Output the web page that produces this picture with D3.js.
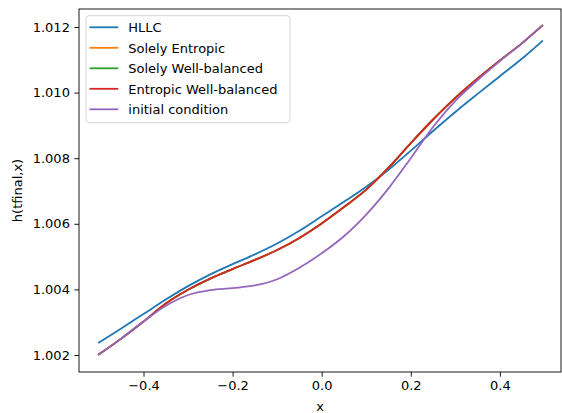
<!DOCTYPE html>
<html>
<head>
<meta charset="utf-8">
<script src="https://cdn.jsdelivr.net/npm/d3@7"></script>
<style>
  body { margin: 0; background: #fff; }
  svg { display: block; font-family: "DejaVu Sans", sans-serif; }
</style>
</head>
<body>
<svg id="chart" width="562" height="413"></svg>
<script>
const xs = [-0.5, -0.45, -0.4, -0.35, -0.3, -0.25, -0.2, -0.15, -0.1, -0.05,
            0, 0.05, 0.1, 0.15, 0.2, 0.25, 0.3, 0.35, 0.4, 0.45, 0.495];

const hllc = [1.00238, 1.00281, 1.00325, 1.00369, 1.00410, 1.00446, 1.00477, 1.00507, 1.00540, 1.00579,
              1.00623, 1.00667, 1.00713, 1.00765, 1.00823, 1.00883, 1.00941, 1.00996, 1.01050, 1.01104, 1.01157];

const solelyEntropic = [1.00202, 1.00250, 1.00302, 1.00357, 1.00399, 1.00433, 1.00462, 1.00490, 1.00520, 1.00557,
                        1.00601, 1.00651, 1.00704, 1.00771, 1.00846, 1.00918, 1.00984, 1.01043, 1.01098, 1.01151, 1.01204];

const solelyWB = [1.00202, 1.00250, 1.00302, 1.00357, 1.00399, 1.00433, 1.00462, 1.00490, 1.00520, 1.00557,
                  1.00601, 1.00651, 1.00704, 1.00771, 1.00846, 1.00918, 1.00984, 1.01043, 1.01098, 1.01151, 1.01204];

const entropicWB = [1.00202, 1.00250, 1.00302, 1.00357, 1.00399, 1.00433, 1.00462, 1.00490, 1.00520, 1.00557,
                    1.00601, 1.00651, 1.00704, 1.00771, 1.00846, 1.00918, 1.00984, 1.01043, 1.01098, 1.01151, 1.01204];

const initial = [1.00202, 1.00250, 1.00302, 1.00350, 1.00383, 1.00398, 1.00404, 1.00412, 1.00431, 1.00466,
                 1.00510, 1.00562, 1.00628, 1.00708, 1.00800, 1.00895, 1.00975, 1.01038, 1.01096, 1.01151, 1.01204];

const seriesNames = ["HLLC", "Solely Entropic", "Solely Well-balanced", "Entropic Well-balanced", "initial condition"];
const seriesValues = [hllc, solelyEntropic, solelyWB, entropicWB, initial];
const colors = ["#1f77b4", "#ff7f0e", "#2ca02c", "#d62728", "#9467bd"];

const xTicks = [-0.4, -0.2, 0.0, 0.2, 0.4];
const yTicks = [1.002, 1.004, 1.006, 1.008, 1.010, 1.012];

// Axes box
const box = { left: 79, right: 561, top: 9, bottom: 372 };
const svg = d3.select("#chart");

const x = d3.scaleLinear()
    .domain([-0.5448, 0.5372])
    .range([box.left, box.right]);

const y = d3.scaleLinear()
    .domain([1.001482, 1.012549])
    .range([box.bottom, box.top]);

// X axis
const xAxis = svg.append("g")
    .attr("transform", `translate(0,${box.bottom})`)
    .call(d3.axisBottom(x)
        .tickValues(xTicks)
        .tickSize(4.7)
        .tickPadding(4.4)
        .tickFormat(d => d3.format(".1f")(d).replace("-", "\u2212")));

// Y axis
const yAxis = svg.append("g")
    .attr("transform", `translate(${box.left},0)`)
    .call(d3.axisLeft(y)
        .tickValues(yTicks)
        .tickSize(4.7)
        .tickPadding(4.4)
        .tickFormat(d3.format(".3f")));

[xAxis, yAxis].forEach(g => {
    g.select(".domain").remove();
    g.selectAll(".tick line").attr("stroke", "#000").attr("stroke-width", 0.9);
    g.selectAll(".tick text")
        .attr("fill", "#000")
        .style("font-family", "DejaVu Sans")
        .style("font-size", "13px");
});

// Lines
const line = d3.line()
    .x((d, i) => x(xs[i]))
    .y(d => y(d))
    .curve(d3.curveCatmullRom.alpha(0.5));

const plot = svg.append("g");
seriesValues.forEach((vals, k) => {
    plot.append("path")
        .datum(vals)
        .attr("fill", "none")
        .attr("stroke", colors[k])
        .attr("stroke-width", 1.8)
        .attr("stroke-linejoin", "round")
        .attr("stroke-linecap", "square")
        .attr("d", line);
});

// Spines
svg.append("rect")
    .attr("x", box.left)
    .attr("y", box.top)
    .attr("width", box.right - box.left)
    .attr("height", box.bottom - box.top)
    .attr("fill", "none")
    .attr("stroke", "#000")
    .attr("stroke-width", 0.9);

// Axis labels
svg.append("text")
    .attr("x", (box.left + box.right) / 2)
    .attr("y", 411)
    .attr("text-anchor", "middle")
    .style("font-size", "13px")
    .text("x");

svg.append("text")
    .attr("transform", `translate(22,${(box.top + box.bottom) / 2}) rotate(-90)`)
    .attr("text-anchor", "middle")
    .style("font-size", "13px")
    .text("h(tfinal,x)");

// Legend
const legend = svg.append("g");
legend.append("rect")
    .attr("x", 86)
    .attr("y", 15.7)
    .attr("width", 204)
    .attr("height", 107)
    .attr("rx", 3)
    .attr("fill", "#fff")
    .attr("fill-opacity", 0.8)
    .attr("stroke", "#d0d0d0")
    .attr("stroke-width", 0.9);

seriesNames.forEach((name, k) => {
    const ly = 27.3 + k * 20.5;
    legend.append("line")
        .attr("x1", 89.5).attr("x2", 118.3)
        .attr("y1", ly).attr("y2", ly)
        .attr("stroke", colors[k])
        .attr("stroke-width", 1.8);
    legend.append("text")
        .attr("x", 128.3)
        .attr("y", ly + 4.7)
        .style("font-size", "13px")
        .text(name);
});
</script>
</body>
</html>
